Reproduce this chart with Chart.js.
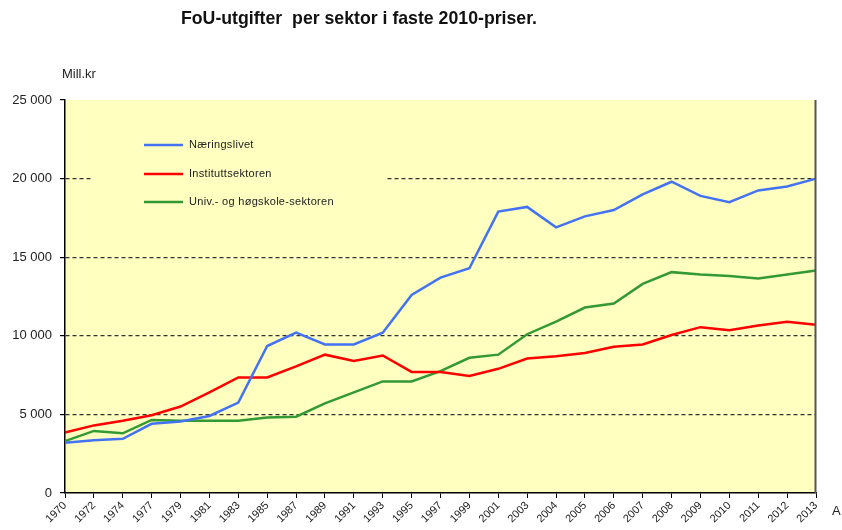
<!DOCTYPE html>
<html lang="no">
<head>
<meta charset="UTF-8">
<title>FoU-utgifter per sektor</title>
<script src="https://cdn.jsdelivr.net/npm/chart.js"></script>
<style>
    body { margin: 0; background: #fff; }
    #fouChart { display: block; }
</style>
</head>
<body>
<canvas id="fouChart" width="842" height="530"></canvas>
<script>
// Data (Mill. kr, faste 2010-priser)
const years = ['1970','1972','1974','1977','1979','1981','1983','1985','1987','1989','1991','1993','1995',
               '1997','1999','2001','2003','2004','2005','2006','2007','2008','2009','2010','2011','2012','2013'];
const naeringslivet = [3200, 3350, 3450, 4400, 4550, 4900, 5750, 9350, 10200, 9450, 9450, 10200, 12600,
                       13700, 14300, 17900, 18200, 16900, 17600, 18000, 19000, 19800, 18900, 18500, 19250, 19500, 20000];
const instituttsektoren = [3850, 4300, 4600, 4950, 5500, 6400, 7350, 7350, 8050, 8800, 8400, 8750, 7700,
                           7700, 7450, 7900, 8550, 8700, 8900, 9300, 9450, 10050, 10550, 10350, 10650, 10900, 10700];
const uhSektoren = [3300, 3950, 3800, 4650, 4600, 4600, 4600, 4800, 4850, 5700, 6400, 7100, 7100,
                    7750, 8600, 8800, 10100, 10900, 11800, 12050, 13300, 14050, 13900, 13800, 13650, 13900, 14150];
const seriesNames = ['Næringslivet', 'Instituttsektoren', 'Univ.- og høgskole-sektoren'];
const seriesColors = ['#4373F2', '#FF0000', '#339933'];

const bgYellow = '#FFFFC0';

// background, legend box, title and loose labels
const decorations = {
    id: 'decorations',
    beforeDraw(chart) {
        const { ctx, chartArea: a } = chart;
        ctx.save();
        ctx.fillStyle = bgYellow;
        ctx.fillRect(a.left, a.top, a.right - a.left, a.bottom - a.top);
        ctx.restore();
    },
    beforeDatasetsDraw(chart) {
        const { ctx } = chart;
        ctx.save();
        // legend box hides part of the grid
        ctx.fillStyle = bgYellow;
        ctx.fillRect(92, 125, 293, 95);
        ctx.restore();
    },
    afterDraw(chart) {
        const { ctx, chartArea: a } = chart;
        ctx.save();
        // right frame line
        ctx.strokeStyle = '#555';
        ctx.lineWidth = 2;
        ctx.beginPath();
        ctx.moveTo(a.right - 0.5, a.top);
        ctx.lineTo(a.right - 0.5, a.bottom);
        ctx.stroke();

        // legend
        ctx.font = '11px "Liberation Sans", Arial, sans-serif';
        ctx.letterSpacing = '0.3px';
        ctx.textBaseline = 'middle';
        ctx.textAlign = 'left';
        const rows = [145, 174, 202];
        seriesNames.forEach((name, i) => {
            ctx.strokeStyle = seriesColors[i];
            ctx.lineWidth = 2.5;
            ctx.beginPath();
            ctx.moveTo(144, rows[i]);
            ctx.lineTo(183, rows[i]);
            ctx.stroke();
            ctx.fillStyle = '#222';
            ctx.fillText(name, 189, rows[i]);
        });
        ctx.letterSpacing = '0px';

        // title
        ctx.fillStyle = '#111';
        ctx.textAlign = 'center';
        ctx.font = 'bold 19px "Liberation Sans", Arial, sans-serif';
        ctx.fillText('FoU-utgifter  per sektor i faste 2010-priser.', 359, 19, 356);

        // unit and cut axis title
        ctx.textAlign = 'left';
        ctx.font = '13px "Liberation Sans", Arial, sans-serif';
        ctx.fillStyle = '#222';
        ctx.fillText('Mill.kr', 62, 74, 35);
        ctx.fillText('A', 832, 511);
        ctx.restore();
    }
};

const datasets = [naeringslivet, instituttsektoren, uhSektoren].map((vals, i) => ({
    label: seriesNames[i],
    data: vals,
    borderColor: seriesColors[i],
    backgroundColor: seriesColors[i],
    borderWidth: 2.5,
    pointRadius: 0,
    tension: 0,
    fill: false
}));

new Chart(document.getElementById('fouChart'), {
    type: 'line',
    data: { labels: years, datasets: datasets },
    options: {
        responsive: false,
        animation: false,
        layout: { padding: { top: 100, right: 26, left: 0, bottom: 0 } },
        plugins: {
            legend: { display: false },
            title: { display: false },
            tooltip: { enabled: false }
        },
        scales: {
            x: {
                offset: false,
                afterFit(scale) { scale.height = 37; },
                border: { color: '#000', width: 1.5 },
                grid: { drawOnChartArea: false, tickLength: 5, tickColor: '#000' },
                ticks: {
                    autoSkip: false,
                    minRotation: 45,
                    maxRotation: 45,
                    padding: 1,
                    color: '#222',
                    font: { family: '"Liberation Sans", Arial, sans-serif', size: 11 }
                }
            },
            y: {
                min: 0,
                max: 25000,
                afterFit(scale) { scale.width = 65; },
                border: { color: '#000', width: 1.5, dash: [4, 3] },
                grid: {
                    color: ctx => (ctx.tick && (ctx.tick.value === 0 || ctx.tick.value === 25000)) ? 'rgba(0,0,0,0)' : '#333',
                    lineWidth: 1.2,
                    tickLength: 5,
                    tickColor: '#000',
                    tickBorderDash: []
                },
                ticks: {
                    stepSize: 5000,
                    padding: 8,
                    color: '#222',
                    font: { family: '"Liberation Sans", Arial, sans-serif', size: 13 },
                    callback: v => String(v).replace(/\B(?=(\d{3})+(?!\d))/g, ' ')
                }
            }
        }
    },
    plugins: [decorations]
});
</script>
</body>
</html>
